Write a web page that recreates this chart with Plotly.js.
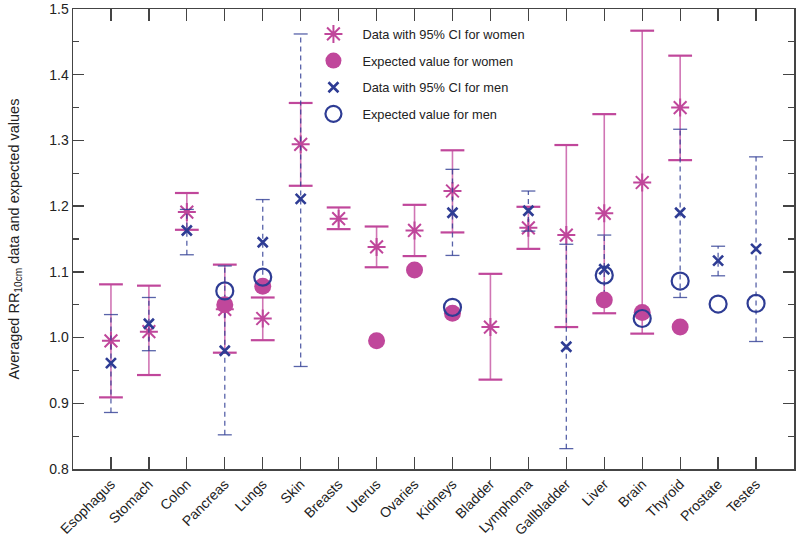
<!DOCTYPE html>
<html><head><meta charset="utf-8">
<script src="https://cdn.plot.ly/plotly-3.0.1.min.js"></script>
<style>html,body{margin:0;padding:0;background:#fff}</style>
</head><body><div id="chart" style="width:796px;height:539px"></div>
<script>
const categories = ["Esophagus","Stomach","Colon","Pancreas","Lungs","Skin","Breasts","Uterus","Ovaries","Kidneys","Bladder","Lymphoma","Gallbladder","Liver","Brain","Thyroid","Prostate","Testes"];
// women data with 95% CI
const womenValue = [0.995,1.009,1.191,1.043,1.029,1.294,1.181,1.138,1.163,1.223,1.016,1.167,1.156,1.189,1.236,1.350,null,null];
const womenLow   = [0.909,0.943,1.164,0.977,0.996,1.231,1.165,1.107,1.124,1.160,0.936,1.135,1.016,1.037,1.006,1.270,null,null];
const womenHigh  = [1.081,1.079,1.220,1.111,1.061,1.357,1.198,1.169,1.202,1.285,1.097,1.199,1.293,1.340,1.467,1.429,null,null];
// women expected
const womenExpected = [null,null,null,1.050,1.078,null,null,0.995,1.103,1.037,null,null,null,1.057,1.038,1.016,null,null];
// men data with 95% CI
const menValue = [0.961,1.021,1.163,0.980,1.145,1.211,null,null,null,1.190,null,1.193,0.986,1.104,null,1.190,1.117,1.135];
const menLow   = [0.886,0.980,1.126,0.852,1.082,0.956,null,null,null,1.125,null,1.162,0.831,1.051,null,1.061,1.094,0.994];
const menHigh  = [1.035,1.061,1.195,1.109,1.210,1.462,null,null,null,1.256,null,1.223,1.142,1.156,null,1.317,1.139,1.275];
// men expected
const menExpected = [null,null,null,1.071,1.092,null,null,null,null,1.046,null,null,null,1.095,1.029,1.086,1.051,1.052];

const W = '#c0479b', WL = 'rgba(192,71,155,0.75)';
const M = '#2e3c94', ML = 'rgba(46,60,148,0.8)';

function segs(low, high){
  const xs=[], ys=[];
  categories.forEach((c,i)=>{ if(low[i]!=null){ xs.push(c,c,null); ys.push(low[i],high[i],null);} });
  return {x:xs,y:ys};
}
function caps(low, high){
  const xs=[], ys=[];
  categories.forEach((c,i)=>{ if(low[i]!=null){ xs.push(c,c); ys.push(low[i],high[i]);} });
  return {x:xs,y:ys};
}
const ws = segs(womenLow,womenHigh), wc = caps(womenLow,womenHigh);
const ms = segs(menLow,menHigh), mc = caps(menLow,menHigh);

const wLine = {x:ws.x,y:ws.y,mode:'lines',line:{color:WL,width:1.6},showlegend:false,hoverinfo:'skip'};
const wCap  = {x:wc.x,y:wc.y,mode:'markers',marker:{symbol:'line-ew-open',size:17,color:W,line:{color:W,width:2.2}},showlegend:false,hoverinfo:'skip'};
const mLine = {x:ms.x,y:ms.y,mode:'lines',line:{color:ML,width:1.3,dash:'5px,4px'},showlegend:false,hoverinfo:'skip'};
const mCap  = {x:mc.x,y:mc.y,mode:'markers',marker:{symbol:'line-ew-open',size:10,color:ML,line:{color:ML,width:1.3}},showlegend:false,hoverinfo:'skip'};
const wData = {x:categories,y:womenValue,mode:'markers',name:'Data with 95% CI for women',legendrank:1,legendgroup:'g1',
   marker:{symbol:'asterisk-open',size:15,color:W,line:{color:W,width:2}}};
const wExp  = {x:categories,y:womenExpected,mode:'markers',name:'Expected value for women',legendrank:2,legendgroup:'g2',
   marker:{symbol:'circle',size:17,color:W,line:{width:0}}};
const mData = {x:categories,y:menValue,mode:'markers',name:'Data with 95% CI for men',legendrank:3,legendgroup:'g3',
   marker:{symbol:'x-thin-open',size:10,color:M,line:{color:M,width:2.6}}};
const mExp  = {x:categories,y:menExpected,mode:'markers',name:'Expected value for men',legendrank:4,legendgroup:'g4',
   marker:{symbol:'circle-open',size:17,color:M,line:{color:M,width:2.2}}};

const font = {family:'"Liberation Sans", Arial, Helvetica, sans-serif', size:14, color:'#222'};
const layout = {
  width:796, height:539,
  margin:{l:73,r:2,t:9,b:70},
  paper_bgcolor:'#fff', plot_bgcolor:'#fff',
  font:font,
  showlegend:true,
  legend:{x:0.321,y:0.978,xanchor:'left',yanchor:'top',bgcolor:'rgba(0,0,0,0)',
          font:{family:font.family,size:12.8,color:'#222'},traceorder:'grouped',tracegroupgap:7,
          itemwidth:48},
  xaxis:{type:'category',categoryorder:'array',categoryarray:categories,range:[-1,18],
         showline:true,linecolor:'#444',linewidth:1.5,mirror:'ticks',
         ticks:'inside',ticklen:12,tickwidth:1.3,tickcolor:'#444',tickangle:-45,
         showgrid:false,zeroline:false,tickfont:{size:14,color:'#222'}},
  yaxis:{range:[0.8,1.5],showline:true,linecolor:'#444',linewidth:1.5,mirror:'ticks',
         ticks:'inside',ticklen:11,tickwidth:1.3,tickcolor:'#444',dtick:0.1,tick0:0.8,tickformat:'.1f',
         minor:{ticks:'inside',ticklen:6,dtick:0.05,tick0:0.8,tickcolor:'#444',tickwidth:1.2,showgrid:false},
         showgrid:false,zeroline:false,tickfont:{size:14,color:'#222'},
         title:{text:'Averaged RR<sub>10cm</sub> data and expected values',font:{size:14.5,color:'#222'},standoff:26}}
};
Plotly.newPlot('chart', [wLine,wCap,wData,mLine,mCap,mData,wExp,mExp], layout, {displayModeBar:false, staticPlot:true});
</script></body></html>
